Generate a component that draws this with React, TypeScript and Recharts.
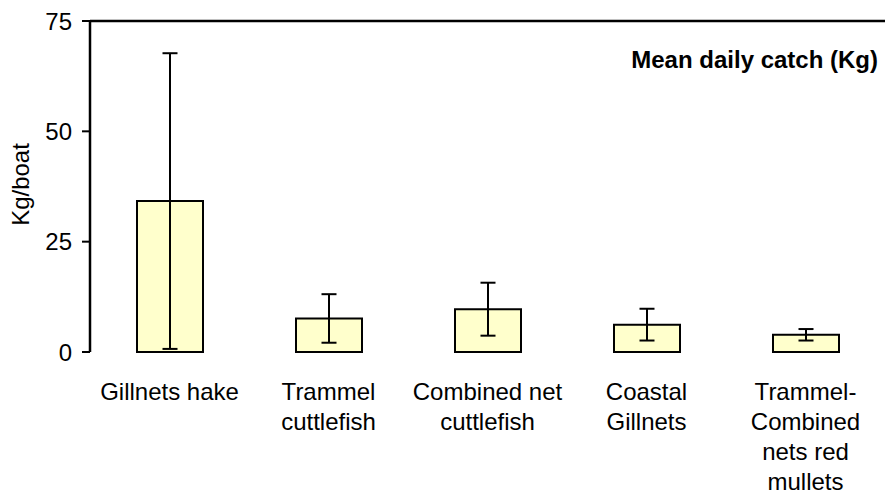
import React from "react";
import {
  BarChart,
  Bar,
  XAxis,
  YAxis,
  ErrorBar,
  ReferenceLine,
  Label,
} from "recharts";

// categories, split into the lines they are printed on
const categories = [
  "Gillnets hake",
  "Trammel cuttlefish",
  "Combined net cuttlefish",
  "Coastal Gillnets",
  "Trammel-Combined nets red mullets",
];
const tickLines = [
  ["Gillnets hake"],
  ["Trammel", "cuttlefish"],
  ["Combined net", "cuttlefish"],
  ["Coastal", "Gillnets"],
  ["Trammel-", "Combined", "nets red", "mullets"],
];
const meanCatch = [34.2, 7.6, 9.7, 6.2, 3.9]; // Kg/boat
const catchSd = [33.5, 5.5, 6.0, 3.6, 1.3];
const yTicks = [0, 25, 50, 75];
const frameTicks = [0, 1, 2, 3, 4, 5];

const FONT = "'Liberation Sans', Arial, sans-serif";

const data = categories.map((name, i) => ({
  name,
  idx: i,
  mean: meanCatch[i],
  sd: catchSd[i],
}));

function CategoryTick(props: any) {
  const { x, y, index } = props;
  const lines = tickLines[index] || [];
  return (
    <text x={x} y={y} textAnchor="middle" fontSize={24} fontFamily={FONT} fill="#000">
      {lines.map((l, i) => (
        <tspan key={i} x={x} dy={i === 0 ? 40 : 30}>
          {l}
        </tspan>
      ))}
    </text>
  );
}

export default function App() {
  return (
    <div style={{ position: "absolute", left: 0, top: 0, width: 885, height: 495, background: "#fff" }}>
      <BarChart
        width={885}
        height={495}
        data={data}
        margin={{ top: 21, right: 0, left: 0, bottom: 0 }}
      >
        <XAxis
          xAxisId="frame"
          dataKey="idx"
          type="number"
          domain={[0, 5]}
          ticks={frameTicks}
          height={0}
          tickSize={8}
          tickFormatter={() => ""}
          axisLine={{ stroke: "#000", strokeWidth: 2.5 }}
          tickLine={{ stroke: "#000", strokeWidth: 2 }}
        />
        <XAxis
          dataKey="name"
          height={143}
          axisLine={false}
          tickLine={false}
          interval={0}
          tick={<CategoryTick />}
        />
        <YAxis
          domain={[0, 75]}
          ticks={yTicks}
          width={90}
          tickSize={8}
          tickMargin={10}
          axisLine={{ stroke: "#000", strokeWidth: 2.5 }}
          tickLine={{ stroke: "#000", strokeWidth: 2 }}
          tick={{ fontSize: 24, fill: "#000", fontFamily: FONT }}
        >
          <Label
            content={(p: any) => {
              const vb = p.viewBox || { y: 21, height: 331 };
              const cy = vb.y + vb.height / 2 - 2;
              return (
                <text
                  x={29}
                  y={cy}
                  transform={`rotate(-90, 29, ${cy})`}
                  textAnchor="middle"
                  fontSize={24}
                  fontFamily={FONT}
                  fill="#000"
                >
                  Kg/boat
                </text>
              );
            }}
          />
        </YAxis>
        <ReferenceLine y={75} stroke="#000" strokeWidth={2.5} />
        <Bar
          dataKey="mean"
          fill="#FFFFCC"
          stroke="#000"
          strokeWidth={2}
          barSize={66}
          isAnimationActive={false}
        >
          <ErrorBar dataKey="sd" width={7.5} stroke="#000" strokeWidth={2} direction="y" />
        </Bar>
      </BarChart>
      <div
        style={{
          position: "absolute",
          right: 7,
          top: 46,
          fontFamily: FONT,
          fontWeight: "bold",
          fontSize: 24,
          color: "#000",
          whiteSpace: "nowrap",
        }}
      >
        Mean daily catch (Kg)
      </div>
    </div>
  );
}
